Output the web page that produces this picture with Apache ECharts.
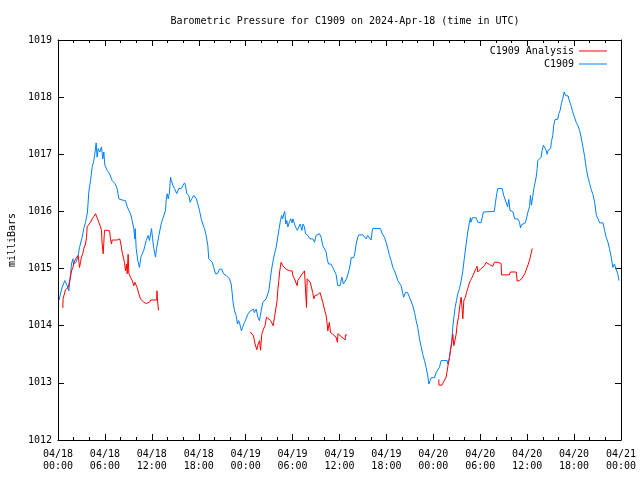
<!DOCTYPE html>
<html>
<head>
<meta charset="utf-8">
<script src="https://cdn.jsdelivr.net/npm/echarts@6/dist/echarts.min.js"></script>
<style>html,body{margin:0;padding:0;background:#fff}#c{width:640px;height:480px}</style>
</head>
<body>
<div id="c"></div>
<script>
var titleText = 'Barometric Pressure for C1909 on 2024-Apr-18 (time in UTC)';
var yAxisName = 'milliBars';
var seriesNames = ['C1909 Analysis', 'C1909'];
var xTickLabels = ['04/18\n00:00','04/18\n06:00','04/18\n12:00','04/18\n18:00','04/19\n00:00','04/19\n06:00','04/19\n12:00','04/19\n18:00','04/20\n00:00','04/20\n06:00','04/20\n12:00','04/20\n18:00','04/21\n00:00'];
var yTickLabels = ['1012','1013','1014','1015','1016','1017','1018','1019'];

// hours since 04/18 00:00 UTC
var blueHours = [0.15,0.3,0.53,0.87,1.17,1.39,1.6,1.73,1.9,2.0,2.32,2.58,2.75,2.88,3.09,3.3,3.52,3.77,3.94,4.16,4.37,4.58,4.7,4.88,5.0,5.14,5.35,5.56,5.73,5.86,5.99,6.29,6.59,6.93,7.27,7.56,7.78,8.2,8.63,8.85,9.06,9.27,9.49,9.7,9.82,9.87,10.0,10.2,10.42,10.6,10.77,10.97,11.28,11.53,11.7,11.96,12.1,12.25,12.47,12.6,12.9,13.1,13.24,13.4,13.6,13.75,13.83,13.96,14.1,14.26,14.39,14.5,14.68,14.9,15.19,15.45,15.75,15.96,16.18,16.3,16.47,16.73,16.9,17.1,17.37,17.7,17.88,18.09,18.31,18.52,18.73,18.95,19.16,19.28,19.4,19.72,19.92,20.14,20.4,20.65,20.95,21.16,21.5,21.7,21.93,22.15,22.27,22.36,22.57,22.78,22.95,23.1,23.25,23.46,23.6,23.85,24.06,24.27,24.6,24.8,25.0,25.1,25.35,25.56,25.77,25.98,26.19,26.4,26.62,26.83,26.96,27.13,27.26,27.47,27.69,27.9,28.1,28.28,28.45,28.6,28.73,28.88,29.0,29.13,29.26,29.4,29.6,29.76,29.94,30.03,30.24,30.37,30.6,30.8,30.97,31.2,31.33,31.52,31.65,31.95,32.2,32.4,32.6,32.8,33.0,33.2,33.44,33.65,33.86,34.07,34.29,34.42,34.59,34.7,34.9,35.14,35.35,35.56,35.78,36.07,36.3,36.5,36.7,36.9,37.2,37.38,37.5,37.8,37.95,38.13,38.34,38.47,38.98,39.2,39.41,39.6,39.8,40.05,40.18,40.26,41.24,41.46,41.75,41.96,42.18,42.39,42.6,42.82,43.03,43.24,43.46,43.67,43.88,44.1,44.2,44.43,44.7,44.95,45.16,45.37,45.6,45.8,46.0,46.23,46.44,46.65,46.87,47.08,47.29,47.42,47.6,47.72,48.15,48.36,48.57,48.78,49.0,49.77,49.85,50.0,50.19,50.36,50.49,50.62,50.79,50.96,51.13,51.35,51.56,51.77,51.98,52.2,52.4,52.62,52.75,52.8,53.0,53.47,53.7,53.9,54.1,54.24,54.4,55.8,55.95,56.11,56.24,56.8,57.0,57.2,57.5,57.65,57.8,58.0,58.2,58.4,58.6,58.8,59.02,59.15,59.3,59.77,59.95,60.1,60.3,60.42,60.55,60.7,60.85,61.1,61.15,61.28,61.36,61.57,61.79,61.91,62.08,62.25,62.43,62.55,62.68,62.85,63.0,63.1,63.27,63.4,63.57,63.9,64.05,64.22,64.38,64.55,64.73,64.9,65.24,65.37,65.66,65.8,66.05,66.27,66.5,66.7,66.9,67.13,67.35,67.56,67.77,67.99,68.2,68.4,68.63,68.85,69.06,69.27,69.7,69.9,70.1,70.33,70.52,70.75,70.95,71.16,71.38,71.6,71.75];
var bluePressure = [1014.45,1014.55,1014.67,1014.79,1014.70,1014.61,1014.91,1015.08,1015.17,1015.08,1015.11,1015.23,1015.37,1015.34,1015.55,1015.70,1015.81,1015.99,1016.34,1016.54,1016.78,1016.89,1017.0,1017.20,1016.95,1017.10,1017.04,1017.13,1016.92,1017.04,1016.81,1016.72,1016.66,1016.54,1016.49,1016.40,1016.22,1016.20,1016.19,1016.08,1016.02,1015.96,1015.84,1015.70,1015.52,1015.70,1015.35,1015.14,1015.02,1015.2,1015.23,1015.32,1015.49,1015.58,1015.49,1015.70,1015.52,1015.35,1015.2,1015.35,1015.58,1015.61,1015.81,1015.87,1015.84,1016.02,1016.19,1016.31,1016.22,1016.34,1016.60,1016.54,1016.46,1016.40,1016.31,1016.40,1016.40,1016.43,1016.50,1016.46,1016.31,1016.28,1016.16,1016.22,1016.28,1016.22,1016.13,1016.02,1015.87,1015.78,1015.70,1015.58,1015.40,1015.17,1015.20,1015.11,1015.02,1014.91,1014.91,1014.99,1014.99,1014.91,1014.88,1014.88,1014.82,1014.73,1014.58,1014.44,1014.26,1014.18,1014.03,1014.09,1014.03,1013.91,1013.97,1014.06,1014.12,1014.20,1014.26,1014.26,1014.29,1014.23,1014.29,1014.15,1014.09,1014.26,1014.41,1014.44,1014.47,1014.50,1014.61,1014.79,1014.94,1015.11,1015.26,1015.37,1015.55,1015.70,1015.84,1015.93,1015.87,1015.96,1016.00,1015.78,1015.84,1015.73,1015.82,1015.87,1015.80,1015.87,1015.90,1015.73,1015.67,1015.70,1015.78,1015.67,1015.78,1015.73,1015.61,1015.58,1015.52,1015.55,1015.52,1015.46,1015.58,1015.55,1015.61,1015.55,1015.40,1015.37,1015.29,1015.17,1015.08,1015.11,1015.08,1015.02,1014.99,1014.90,1014.70,1014.70,1014.85,1014.73,1014.70,1014.82,1014.96,1015.08,1015.19,1015.19,1015.26,1015.43,1015.55,1015.59,1015.59,1015.58,1015.52,1015.58,1015.55,1015.50,1015.65,1015.70,1015.70,1015.61,1015.55,1015.46,1015.35,1015.23,1015.14,1015.02,1014.96,1014.88,1014.79,1014.76,1014.70,1014.56,1014.50,1014.58,1014.58,1014.50,1014.47,1014.35,1014.23,1014.09,1013.97,1013.77,1013.63,1013.50,1013.39,1013.27,1013.12,1012.98,1013.04,1013.09,1013.09,1013.18,1013.20,1013.27,1013.39,1013.39,1013.33,1013.39,1013.39,1013.74,1013.97,1014.14,1014.32,1014.44,1014.56,1014.65,1014.79,1014.96,1015.20,1015.43,1015.64,1015.81,1015.89,1015.81,1015.89,1015.89,1015.81,1015.84,1015.80,1015.81,1015.99,1016.00,1016.16,1016.31,1016.40,1016.40,1016.28,1016.20,1016.08,1016.21,1016.02,1015.99,1015.99,1015.87,1015.89,1015.87,1015.81,1015.71,1015.77,1015.80,1015.90,1015.99,1016.08,1016.28,1016.11,1016.25,1016.40,1016.40,1016.60,1016.75,1016.89,1016.90,1016.95,1017.07,1017.16,1017.19,1017.07,1017.00,1017.07,1017.10,1017.10,1017.22,1017.33,1017.51,1017.61,1017.61,1017.71,1017.77,1017.89,1017.98,1018.09,1018.03,1018.02,1017.95,1017.83,1017.75,1017.65,1017.56,1017.50,1017.42,1017.30,1017.13,1016.96,1016.75,1016.60,1016.49,1016.38,1016.30,1016.16,1015.93,1015.87,1015.80,1015.80,1015.67,1015.55,1015.46,1015.35,1015.20,1015.02,1015.08,1014.99,1014.90,1014.79];

// analysis series; null marks a gap between runs
var redHours = [0.62,0.65,0.8,0.96,1.17,1.3,1.5,1.6,1.73,1.9,2.07,2.25,2.45,2.58,2.75,2.88,3.0,3.17,3.3,3.52,3.65,3.73,3.94,4.16,4.37,4.58,4.8,5.0,5.22,5.43,5.56,5.65,5.78,5.86,5.95,6.29,6.6,6.71,6.84,6.93,7.56,7.78,7.9,8.04,8.2,8.4,8.5,8.63,8.76,8.85,8.97,9.06,9.27,9.49,9.7,9.83,10.0,10.12,10.33,10.55,10.77,10.97,11.28,11.53,11.7,11.87,12.62,12.66,12.72,12.85,
  13.5,
  24.6,24.8,25.0,25.2,25.43,25.6,25.77,25.9,26.06,26.27,26.48,26.66,26.75,26.9,27.2,27.4,27.51,27.69,27.9,28.02,28.1,28.24,28.36,28.53,28.75,28.96,29.17,29.39,29.6,29.76,29.94,30.03,30.24,30.45,30.58,30.67,30.9,31.1,31.3,31.52,31.65,31.78,31.86,32.03,32.25,32.46,32.58,32.72,32.88,33.2,33.52,33.74,33.86,34.07,34.29,34.42,34.5,34.7,34.85,35.14,35.35,35.56,35.74,35.8,36.72,36.76,36.95,
  37.5,
  48.7,48.72,49.1,49.25,49.42,49.63,49.77,49.94,50.06,50.19,50.36,50.49,50.62,50.79,50.92,51.05,51.22,51.39,51.56,51.7,51.77,51.9,52.1,52.24,52.4,52.57,52.75,52.9,53.07,53.26,53.47,53.6,53.69,53.9,54.1,54.3,54.54,54.75,54.97,55.18,55.4,55.6,55.8,56.24,56.67,56.72,57.73,57.85,58.6,58.72,59.0,59.3,59.5,59.7,59.9,60.13,60.35,60.49,60.65];
var redPressure = [1014.31,1014.47,1014.50,1014.63,1014.62,1014.67,1014.68,1014.85,1014.96,1015.02,1015.11,1015.17,1015.17,1015.23,1015.02,1015.11,1015.20,1015.26,1015.35,1015.43,1015.55,1015.73,1015.76,1015.81,1015.87,1015.91,1015.96,1015.89,1015.81,1015.73,1015.67,1015.43,1015.26,1015.45,1015.67,1015.67,1015.66,1015.52,1015.43,1015.50,1015.50,1015.53,1015.52,1015.43,1015.29,1015.26,1015.11,1014.96,1015.08,1014.91,1015.25,1014.91,1014.85,1014.79,1014.70,1014.76,1014.75,1014.67,1014.56,1014.47,1014.44,1014.41,1014.39,1014.37,1014.41,1014.45,1014.45,1014.61,1014.45,1014.27,
  null,
  1013.89,1013.87,1013.82,1013.68,1013.58,1013.68,1013.74,1013.57,1013.85,1013.94,1014.00,1014.15,1014.18,1014.12,1014.09,1014.06,1014.00,1014.15,1014.18,1014.44,1014.61,1014.79,1014.96,1015.11,1015.05,1015.02,1014.99,1014.96,1014.96,1014.99,1014.96,1014.88,1014.82,1014.79,1014.70,1014.79,1014.84,1014.88,1014.92,1014.96,1014.94,1014.32,1014.82,1014.80,1014.76,1014.74,1014.58,1014.47,1014.53,1014.54,1014.58,1014.55,1014.41,1014.29,1014.18,1014.03,1013.91,1014.06,1013.88,1013.85,1013.83,1013.80,1013.71,1013.86,1013.75,1013.84,1013.84,
  null,
  1013.06,1012.96,1012.96,1013.00,1013.01,1013.10,1013.21,1013.36,1013.44,1013.56,1013.71,1013.85,1013.65,1013.67,1013.85,1014.03,1014.15,1014.35,1014.50,1014.26,1014.12,1014.44,1014.50,1014.58,1014.65,1014.73,1014.79,1014.83,1014.88,1014.94,1015.00,1015.04,1014.94,1014.96,1015.00,1015.03,1015.05,1015.11,1015.11,1015.07,1015.09,1015.04,1015.11,1015.11,1015.09,1014.89,1014.89,1014.94,1014.94,1014.78,1014.79,1014.82,1014.83,1014.91,1014.99,1015.07,1015.17,1015.26,1015.35];

function pairs(xs, ys) {
  return xs.map(function (x, i) { return [x, ys[i] === null ? '-' : ys[i]]; });
}

var FONT = 'DejaVu Sans Mono';
var txt = { fontFamily: FONT, fontSize: 10, color: '#000' };

var chart = echarts.init(document.getElementById('c'), null, { renderer: 'canvas' });

function xAx(pos, showLabel) {
  return {
    type: 'value', position: pos, min: 0, max: 72, interval: 6,
    axisLine: { show: true, onZero: false, lineStyle: { color: '#000', width: 1 } },
    axisTick: { show: true, inside: true, length: 6, lineStyle: { color: '#000' } },
    minorTick: { show: true, splitNumber: 3, length: 3, lineStyle: { color: '#000' } },
    splitLine: { show: false },
    axisLabel: {
      show: showLabel, margin: 8, fontFamily: FONT, fontSize: 10, color: '#000', lineHeight: 12,
      formatter: function (v) { return xTickLabels[Math.round(v / 6)]; }
    }
  };
}
function yAx(pos, showLabel) {
  return {
    type: 'value', position: pos, min: 1012, max: 1019, interval: 1,
    name: showLabel ? yAxisName : '', nameLocation: 'middle', nameGap: 41, nameRotate: 90,
    nameTextStyle: txt,
    axisLine: { show: true, onZero: false, lineStyle: { color: '#000', width: 1 } },
    axisTick: { show: true, inside: true, length: 6, lineStyle: { color: '#000' } },
    splitLine: { show: false },
    axisLabel: {
      show: showLabel, margin: 6, fontFamily: FONT, fontSize: 10, color: '#000',
      formatter: function (v) { return yTickLabels[Math.round(v - 1012)]; }
    }
  };
}

chart.setOption({
  animation: false,
  backgroundColor: '#fff',
  title: {
    text: titleText, left: 340, top: 11, textAlign: 'center',
    textStyle: { fontFamily: FONT, fontSize: 10, fontWeight: 'normal', color: '#000' }
  },
  legend: {
    orient: 'vertical', right: 28, top: 41, align: 'right',
    icon: 'rect', itemWidth: 28, itemHeight: 1, itemGap: 3,
    textStyle: txt,
    data: seriesNames
  },
  grid: { left: 58, right: 19, top: 40, bottom: 40, containLabel: false, outerBoundsMode: 'none' },
  xAxis: [xAx('bottom', true), xAx('top', false)],
  yAxis: [yAx('left', true), yAx('right', false)],
  series: [
    {
      name: seriesNames[0], type: 'line', xAxisIndex: 0, yAxisIndex: 0,
      symbol: 'none', connectNulls: false,
      lineStyle: { color: '#ff0000', width: 1 }, itemStyle: { color: '#ff0000' },
      data: pairs(redHours, redPressure), z: 3
    },
    {
      name: seriesNames[1], type: 'line', xAxisIndex: 0, yAxisIndex: 0,
      symbol: 'none',
      lineStyle: { color: '#0080ff', width: 1 }, itemStyle: { color: '#0080ff' },
      data: pairs(blueHours, bluePressure), z: 2
    }
  ]
});
</script>
</body>
</html>
